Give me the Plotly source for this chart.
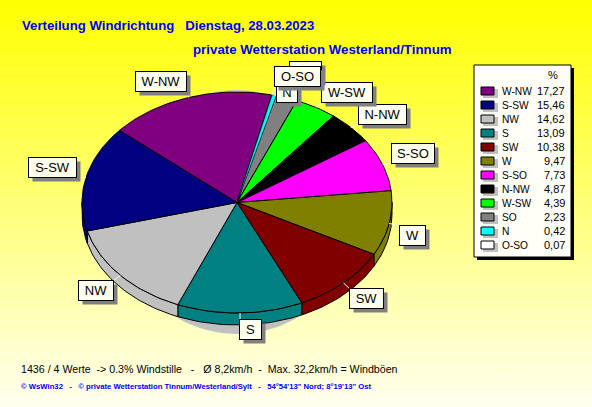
import math
import plotly.graph_objects as go

# ---- data ----
directions = ["W-NW", "S-SW", "NW", "S", "SW", "W", "S-SO", "N-NW", "W-SW", "SO", "N", "O-SO"]
shares = [17.27, 15.46, 14.62, 13.09, 10.38, 9.47, 7.73, 4.87, 4.39, 2.23, 0.42, 0.07]
share_labels = ["17,27", "15,46", "14,62", "13,09", "10,38", "9,47", "7,73", "4,87", "4,39", "2,23", "0,42", "0,07"]
colors = ["#800080", "#000080", "#C0C0C0", "#008080", "#800000", "#808000",
          "#FF00FF", "#000000", "#00FF00", "#808080", "#00FFFF", "#FFFFFF"]
clockwise = ["O-SO", "N", "SO", "W-SW", "N-NW", "S-SO", "W", "SW", "S", "NW", "S-SW", "W-NW"]

title1 = "Verteilung Windrichtung   Dienstag, 28.03.2023"
title2 = "private Wetterstation Westerland/Tinnum"
foot1 = "1436 / 4 Werte  -> 0.3% Windstille   -   Ø 8,2km/h  -  Max. 32,2km/h = Windböen"
foot2 = "© WsWin32   -   © private Wetterstation Tinnum/Westerland/Sylt   -   54°54'13\" Nord; 8°19'13\" Ost"

# ---- layout geometry (pixels of the 592x407 canvas) ----
W, H = 592, 407
CX, CY, RX, RY, DEPTH = 237, 202.5, 155, 110.5, 12
START = 12.9
boxes = {
    "W-NW": (136, 186, 72, 91), "S-SW": (29, 76, 158, 177), "NW": (79, 113, 281, 300),
    "S": (240, 261, 320, 339), "SW": (350, 383, 289, 308), "W": (400, 425, 226, 245),
    "S-SO": (392, 434, 144, 163), "N-NW": (359, 406, 105, 124), "W-SW": (322, 372, 83, 102),
    "SO": (290, 321, 62, 81), "N": (277, 297, 83, 102), "O-SO": (275, 320, 67, 86),
}
LEG = (474, 571, 65, 257)
FONT = "Liberation Sans, Arial, sans-serif"


def pt(t, dy=0.0, cx=CX, cy=CY, rx=RX, ry=RY):
    a = math.radians(t)
    return cx + rx * math.sin(a), cy + dy - ry * math.cos(a)


def arc(a, b, dy=0.0):
    n = max(2, int(abs(b - a) / 1.5) + 2)
    return [pt(a + (b - a) * i / (n - 1), dy) for i in range(n)]


def poly(points, fill, line="#000000", width=1):
    points = list(points) + [points[0]]
    return go.Scatter(x=[p[0] for p in points], y=[p[1] for p in points], mode="lines",
                      fill="toself", fillcolor=fill, line=dict(color=line, width=width),
                      hoverinfo="skip", showlegend=False)


traces = [go.Scatter(x=[0, W, W, 0, 0], y=[0, 0, H, H, 0], mode="lines", fill="toself",
                     line=dict(width=0), hoverinfo="skip", showlegend=False,
                     fillgradient=dict(type="vertical",
                                       colorscale=[[0, "#FFFFF0"], [1, "#FFFF00"]]))]

# drop shadow of the disc
shadow = [pt(i, 0, CX, 212, 120, 122) for i in range(0, 360, 3)]
traces.append(poly(shadow, "#C0C0C0", "#C0C0C0", 0))

share_of = dict(zip(directions, shares))
color_of = dict(zip(directions, colors))
spans, a = {}, START
for name in clockwise:
    b = a + share_of[name] * 3.6
    spans[name] = (a, b)
    a = b

# rim
for name in clockwise:
    a, b = spans[name]
    for k in (0, 360):
        lo, hi = max(a - k, 90), min(b - k, 270)
        if lo < hi:
            traces.append(poly(arc(lo, hi) + arc(hi, lo, DEPTH), color_of[name]))
# top face: the two thinnest slices go last with a fine outline so they stay visible
for name in [n for n in clockwise if n not in ("O-SO", "N")] + ["O-SO", "N"]:
    a, b = spans[name]
    thin = name in ("O-SO", "N")
    traces.append(poly([(CX, CY)] + arc(a, b), color_of[name], width=0.4 if thin else 1))

# leader lines
for name in clockwise:
    a, b = spans[name]
    sx, sy = pt((a + b) / 2)
    x0, x1, y0, y1 = boxes[name]
    ex, ey = min(max(sx, x0), x1), min(max(sy, y0), y1)
    traces.append(go.Scatter(x=[sx, ex], y=[sy, ey], mode="lines",
                             line=dict(color="#FFFFFF", width=1),
                             hoverinfo="skip", showlegend=False))

shapes = [
    dict(type="rect", x0=LEG[0] + 3, x1=LEG[1] + 3, y0=LEG[2] + 3, y1=LEG[3] + 3,
         fillcolor="#000000", line=dict(width=0), layer="above"),
    dict(type="rect", x0=LEG[0], x1=LEG[1], y0=LEG[2], y1=LEG[3],
         fillcolor="#FFFFF8", line=dict(color="#000000", width=1), layer="above"),
]
ann = []


def text(x, y, s, size, color="#000000", anchor="left", family=FONT):
    ann.append(dict(x=x, y=y, text=s, showarrow=False, xanchor=anchor, yanchor="middle",
                    borderpad=0, font=dict(family=family, size=size, color=color)))


text(21, 25, "<b>" + title1.replace(" ", "\u00a0") + "</b>", 13.2, "#0000FF")
text(192, 49, "<b>" + title2 + "</b>", 13.3, "#0000FF")
text(20, 369, foot1.replace(" ", "\u00a0"), 10.65)
text(20, 386, "<b>" + foot2.replace(" ", "\u00a0") + "</b>", 7.7, "#0000FF")

# label boxes with offset shadows
for name in directions[:9] + ["SO", "N", "O-SO"]:
    x0, x1, y0, y1 = boxes[name]
    ann.append(dict(x=(x0 + x1) / 2 + 4, y=(y0 + y1) / 2 + 4, text=" ", showarrow=False,
                    width=x1 - x0, height=y1 - y0, bgcolor="#808080", borderpad=0,
                    xanchor="center", yanchor="middle", font=dict(size=12)))
    ann.append(dict(x=(x0 + x1) / 2, y=(y0 + y1) / 2, text=name, showarrow=False,
                    width=x1 - x0, height=y1 - y0, bgcolor="#FFFFF0", bordercolor="#000000",
                    borderwidth=1, borderpad=0, xanchor="center", yanchor="middle",
                    font=dict(family=FONT, size=13, color="#000000")))

# legend
text(553, 75, "%", 11, anchor="center")
for i, name in enumerate(directions):
    yc = 91 + i * 14
    shapes.append(dict(type="rect", x0=483, x1=498, y0=yc - 2, y1=yc + 7,
                       fillcolor="#C0C0C0", line=dict(width=0), layer="above"))
    shapes.append(dict(type="rect", x0=481, x1=494, y0=yc - 4, y1=yc + 4,
                       fillcolor=colors[i], line=dict(color="#000000", width=1), layer="above"))
    text(501, yc, name, 10.2)
    text(566, yc, share_labels[i], 11, anchor="right")

fig = go.Figure(traces)
fig.update_layout(
    width=W, height=H, margin=dict(l=0, r=0, t=0, b=0), showlegend=False,
    paper_bgcolor="#FFFFFF", plot_bgcolor="rgba(0,0,0,0)", hovermode=False,
    xaxis=dict(range=[0, W], visible=False, fixedrange=True),
    yaxis=dict(range=[H, 0], visible=False, fixedrange=True),
    shapes=shapes, annotations=ann,
)
fig.write_html("out.html", config=dict(displayModeBar=False),
               default_width=W, default_height=H,
               post_script="document.body.style.margin='0';document.documentElement.style.overflow='hidden';")
